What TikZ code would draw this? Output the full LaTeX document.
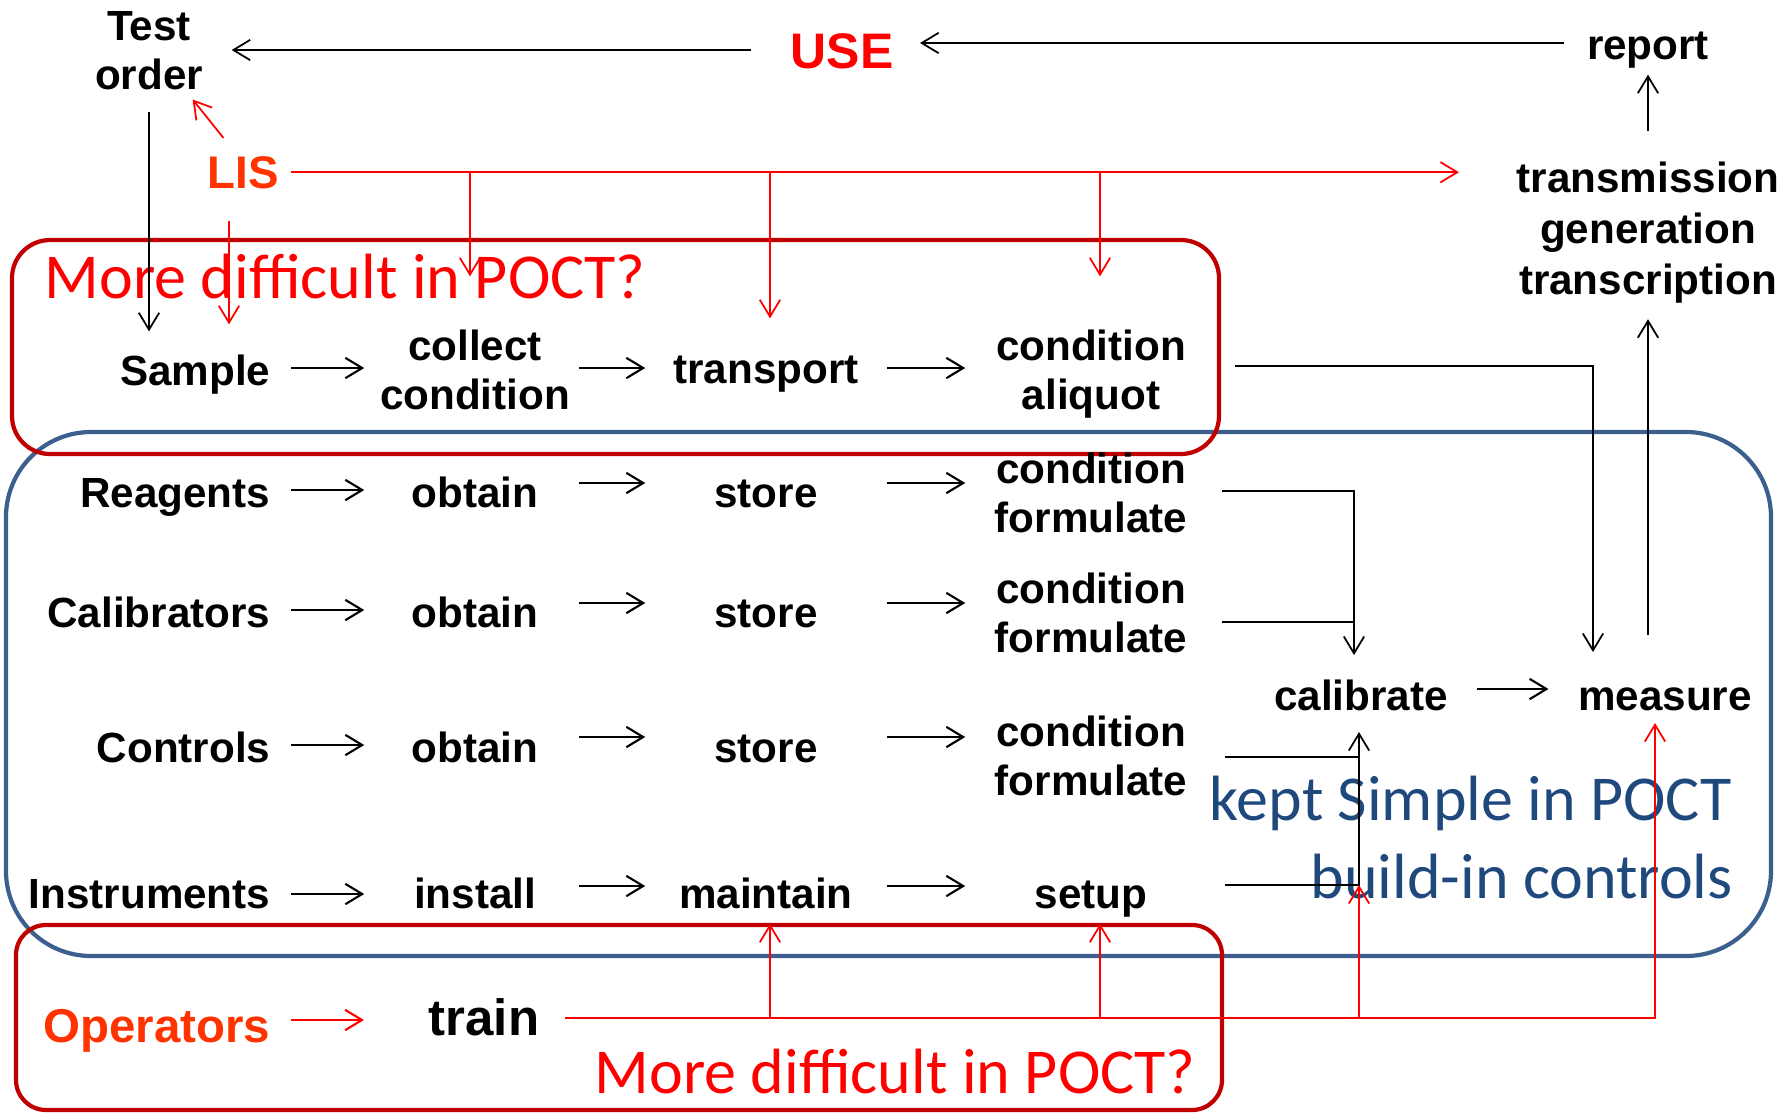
\documentclass[tikz,border=0pt]{standalone}
\usepackage{fontspec}
\setmainfont{Liberation Sans}
\newfontfamily\notefont{Carlito}
\usetikzlibrary{arrows.meta,calc}

\definecolor{frameRed}{RGB}{192,0,0}
\definecolor{frameBlue}{RGB}{60,96,142}
\definecolor{warnRed}{RGB}{255,0,0}
\definecolor{actorRed}{RGB}{255,51,0}
\definecolor{noteBlue}{RGB}{31,73,125}

\begin{document}
\begin{tikzpicture}[
  x=0.01cm, y=-0.01cm,
  word/.style={font=\fontsize{12}{14.2}\selectfont\bfseries, inner sep=0pt,
               text height=9.94pt, text depth=4.26pt},
  stack/.style={font=\fontsize{12}{14.2}\selectfont\bfseries, inner sep=0pt, align=center},
  src/.style={word, anchor=base east, inner xsep=0.2cm},
  colA/.style={word, anchor=base, minimum width=2.2cm},
  colB/.style={word, anchor=base, minimum width=2.4cm},
  colC/.style={word, anchor=base, minimum width=2.5cm},
  colCs/.style={stack, minimum width=2.5cm},
  tipA/.style={-{Straight Barb[length=4.8pt,width=5.8pt]}},
  flow/.style={draw=black, line width=0.5pt},
  link/.style={flow, tipA},
  rowarrow/.style={flow, line width=0.6pt, tipA},
  outA/.style={rowarrow, shorten <=-0.07cm},
  redlink/.style={draw=warnRed, line width=0.5pt, tipA},
  note/.style={font=\notefont\fontsize{18.2}{21}\selectfont, inner sep=0pt, anchor=base west},
  frame/.style={line width=1.2pt}
]
\useasboundingbox (0,0) rectangle (1787,1117);

% grouping frames
\draw[frame, frameBlue, rounded corners=0.85cm] (6,432) rectangle (1771,956);
\draw[frame, frameRed, rounded corners=0.38cm] (12,240) rectangle (1219,454);
\draw[frame, frameRed, rounded corners=0.3cm] (16,925) rectangle (1222,1110);

% remarks
\node[note, text=warnRed] (hardTop) at (44,298) {More difficult in POCT?};
\node[note, text=warnRed] (hardBot) at (594,1093) {More difficult in POCT?};
\node[note, text=noteBlue] (simple) at (1209,820) {kept Simple in POCT};
\node[note, text=noteBlue] (builtin) at (1310,898) {build-in controls};

% top of the loop
\node[stack] (test) at (149,55) {\strut Test\\\strut order};
\node[font=\fontsize{14.2}{17}\selectfont\bfseries, text=warnRed, inner sep=0pt, anchor=base] (use) at (842,68) {USE};
\node[word, anchor=base] (report) at (1648,59) {report};
\node[font=\fontsize{13}{15}\selectfont\bfseries, text=actorRed, inner sep=0pt, anchor=base] (lis) at (243,188) {LIS};
\node[stack, font=\fontsize{12}{14.5}\selectfont\bfseries] (trans) at (1648,233) {\strut transmission\\\strut generation\\\strut transcription};

% sample row
\node[src] (sample) at (291,385) {Sample};
\node[stack, minimum width=2.2cm] (collect) at (475,375) {\strut collect\\\strut condition};
\node[colB] (transport) at (766,383) {transport};
\node[colCs] (aliquot) at (1091,375) {\strut condition\\\strut aliquot};

% reagents row
\node[src] (reag) at (291,507) {Reagents};
\node[colA] (obtR) at (475,507) {obtain};
\node[colB] (stoR) at (766,507) {store};
\node[colCs] (forR) at (1091,498) {\strut condition\\\strut formulate};

% calibrators row
\node[src] (calr) at (291,627) {Calibrators};
\node[colA] (obtC) at (475,627) {obtain};
\node[colB] (stoC) at (766,627) {store};
\node[colCs] (forC) at (1091,618) {\strut condition\\\strut formulate};

% controls row
\node[src] (ctrl) at (291,762) {Controls};
\node[colA] (obtK) at (475,762) {obtain};
\node[colB] (stoK) at (766,762) {store};
\node[colCs] (forK) at (1091,761) {\strut condition\\\strut formulate};

% instruments row
\node[src] (instr) at (291,908) {Instruments};
\node[colA] (install) at (475,908) {install};
\node[colB] (maintain) at (766,908) {maintain};
\node[colC] (setup) at (1091,908) {setup};

% analysis
\node[word, anchor=base] (calib) at (1361,710) {calibrate};
\node[word, anchor=base] (measure) at (1665,710) {measure};

% operators
\node[font=\fontsize{13.5}{16}\selectfont\bfseries, text=actorRed, inner sep=0pt, inner xsep=0.2cm, anchor=base east] (oper) at (291,1042) {Operators};
\node[font=\fontsize{14.5}{17}\selectfont\bfseries, inner sep=0pt, anchor=base] (train) at (484,1035) {train};

% connector levels and free ends
\coordinate (yRep) at (0,43);
\coordinate (yUse) at (0,50);
\coordinate (yS) at (0,368);
\coordinate (yR1) at (0,490);
\coordinate (yR2) at (0,483);
\coordinate (yC1) at (0,610);
\coordinate (yC2) at (0,603);
\coordinate (yK1) at (0,745);
\coordinate (yK2) at (0,737);
\coordinate (yI1) at (0,894);
\coordinate (yI2) at (0,886);
\coordinate (yA) at (0,366);
\coordinate (yF1) at (0,491);
\coordinate (yF2) at (0,622);
\coordinate (yF3) at (0,757);
\coordinate (yF4) at (0,885);
\coordinate (yCM) at (0,689);
\coordinate (yOp) at (0,1020);
\coordinate (yTrain) at (0,1018);
\coordinate (cIn) at (1354,655);
\coordinate (cUp) at (1359,732);
\coordinate (mIn) at (1593,652);
\coordinate (mUp) at (1655,723);

% result loop
\draw[link, shorten <=0.25cm] (trans.north) -- (report.south);
\draw[link, shorten <=0.22cm, shorten >=0.26cm] (report.west |- yRep) -- (use.east |- yRep);
\draw[link, shorten <=0.39cm, shorten >=0.28cm] (use.west |- yUse) -- (test.east |- yUse);
\draw[link, shorten <=0.06cm, shorten >=0.18cm] (test.south) -- (test.south |- sample.north);
\draw[link, shorten <=0.39cm, shorten >=0.09cm] (trans.south |- measure.north) -- (trans.south);

% LIS links
\draw[redlink, shorten <=0.44cm, shorten >=0.57cm] ($(lis.center)+(8,0)$) -- ($(test.center)+(8,0)$);
\draw[redlink, shorten <=0.12cm, shorten >=0.57cm] (lis.east) -- (trans.west |- lis.east);
\draw[redlink, shorten <=0.32cm, shorten >=0.25cm] ($(lis.south)+(-14,0)$) -- ($(lis.south |- sample.north)+(-14,0)$);
\draw[redlink, shorten >=0.48cm] ($(collect.north |- lis.east)+(-5,0)$) -- ($(collect.north)+(-5,0)$);
\draw[redlink, shorten >=0.29cm] ($(transport.north |- lis.east)+(4,0)$) -- ($(transport.north)+(4,0)$);
\draw[redlink, shorten >=0.48cm] ($(aliquot.north |- lis.east)+(9,0)$) -- ($(aliquot.north)+(9,0)$);

% row flows
\draw[rowarrow] (sample.east |- yS) -- (collect.west |- yS);
\draw[outA] (collect.east |- yS) -- (transport.west |- yS);
\draw[rowarrow] (transport.east |- yS) -- (aliquot.west |- yS);

\draw[rowarrow] (reag.east |- yR1) -- (obtR.west |- yR1);
\draw[outA] (obtR.east |- yR2) -- (stoR.west |- yR2);
\draw[rowarrow] (stoR.east |- yR2) -- (forR.west |- yR2);

\draw[rowarrow] (calr.east |- yC1) -- (obtC.west |- yC1);
\draw[outA] (obtC.east |- yC2) -- (stoC.west |- yC2);
\draw[rowarrow] (stoC.east |- yC2) -- (forC.west |- yC2);

\draw[rowarrow] (ctrl.east |- yK1) -- (obtK.west |- yK1);
\draw[outA] (obtK.east |- yK2) -- (stoK.west |- yK2);
\draw[rowarrow] (stoK.east |- yK2) -- (forK.west |- yK2);

\draw[rowarrow] (instr.east |- yI1) -- (install.west |- yI1);
\draw[outA] (install.east |- yI2) -- (maintain.west |- yI2);
\draw[rowarrow] (maintain.east |- yI2) -- (setup.west |- yI2);

% into calibration and measurement
\draw[link, shorten <=0.18cm] (aliquot.east |- yA) -| (mIn);
\draw[link, shorten <=0.05cm] (forR.east |- yF1) -| (cIn);
\draw[flow, shorten <=0.05cm] (forC.east |- yF2) -- (cIn |- yF2);
\draw[flow, shorten <=0.08cm] (forK.east |- yF3) -- (cUp |- yF3);
\draw[link, shorten <=0.08cm] (setup.east |- yF4) -| (cUp);
\draw[rowarrow, shorten <=0.28cm, shorten >=0.29cm] (calib.east |- yCM) -- (measure.west |- yCM);

% operator training
\draw[redlink, line width=0.6pt, shorten >=0.64cm] (oper.east |- yOp) -- (train.west |- yOp);
\draw[redlink, shorten <=0.25cm] (train.east |- yTrain) -| (mUp);
\draw[redlink] ($(maintain.south |- yTrain)+(4,0)$) -- ($(maintain.south)+(4,0)$);
\draw[redlink] ($(setup.south |- yTrain)+(9,0)$) -- ($(setup.south)+(9,0)$);
\draw[redlink] (cUp |- yTrain) -- (cUp |- yF4);
\end{tikzpicture}
\end{document}
